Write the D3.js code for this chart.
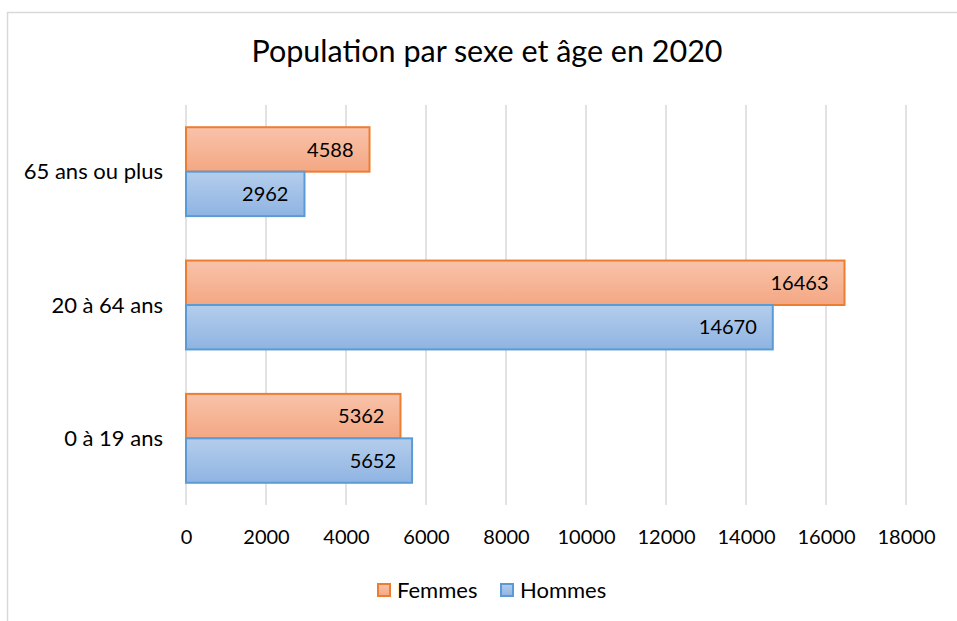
<!DOCTYPE html>
<html>
<head>
<meta charset="utf-8">
<script src="https://cdn.jsdelivr.net/npm/d3@7"></script>
<style>
  html, body { margin: 0; padding: 0; background: #fff; }
  svg { display: block; }
  text { font-family: Lato, "Open Sans", sans-serif; fill: #000; }
</style>
</head>
<body>
<svg id="chart" width="957" height="621"></svg>
<script>
// Age groups, listed top to bottom
const categories = ["65 ans ou plus", "20 à 64 ans", "0 à 19 ans"];
const series = ["Femmes", "Hommes"];
const femmes = [4588, 16463, 5362];
const hommes = [2962, 14670, 5652];
const ticks = [0, 2000, 4000, 6000, 8000, 10000, 12000, 14000, 16000, 18000];
const title = "Population par sexe et âge en 2020";

const W = 957, H = 621;
const margin = { left: 186, right: 51, top: 105, bottom: 116 };

const svg = d3.select("#chart");

// gradients for the two series
const defs = svg.append("defs");
const grads = {
  Femmes: { top: "#f8c3aa", bottom: "#f4a783", stroke: "#ed7d31" },
  Hommes: { top: "#b4cdec", bottom: "#8fb4e2", stroke: "#5b9bd5" }
};
Object.entries(grads).forEach(([k, g]) => {
  const lg = defs.append("linearGradient")
    .attr("id", "grad-" + k).attr("x1", 0).attr("y1", 0).attr("x2", 0).attr("y2", 1);
  lg.append("stop").attr("offset", "0%").attr("stop-color", g.top);
  lg.append("stop").attr("offset", "100%").attr("stop-color", g.bottom);
});

// chart frame
svg.append("rect")
  .attr("x", 7.5).attr("y", 12.5)
  .attr("width", W).attr("height", H)
  .attr("fill", "none").attr("stroke", "#d9d9d9").attr("stroke-width", 1.5);

svg.append("text")
  .attr("x", 487).attr("y", 62)
  .attr("text-anchor", "middle")
  .style("font-size", "30.5px")
  .text(title);

const x = d3.scaleLinear().domain([0, 18000]).range([margin.left, W - margin.right]);
const y = d3.scaleBand().domain(categories).range([margin.top, H - margin.bottom]).paddingInner(0).paddingOuter(0);
// two bars per group, gap equal to one bar width
const inner = d3.scaleBand().domain(series).range([y.bandwidth() / 6, y.bandwidth() * 5 / 6]);

// vertical gridlines
svg.append("g")
  .selectAll("line").data(ticks).join("line")
  .attr("x1", d => x(d)).attr("x2", d => x(d))
  .attr("y1", margin.top).attr("y2", H - margin.bottom)
  .attr("stroke", "#d9d9d9").attr("stroke-width", 1.5);

// value axis
const xAxis = d3.axisBottom(x).tickValues(ticks).tickSize(0).tickPadding(0).tickFormat(d3.format("d"));
const gx = svg.append("g").attr("transform", `translate(0,${H - margin.bottom + 39})`).call(xAxis);
gx.select(".domain").remove();
gx.selectAll("text").style("font-size", "20px").attr("dy", 0).attr("y", 0).attr("fill", "#000");

// category axis
const yAxis = d3.axisLeft(y).tickSize(0).tickPadding(23);
const gy = svg.append("g").attr("transform", `translate(${margin.left},0)`).call(yAxis);
gy.select(".domain").remove();
gy.selectAll("text").style("font-size", "22px").attr("dy", "0.35em").attr("fill", "#000");

const rows = categories.map((c, i) => ({ cat: c, Femmes: femmes[i], Hommes: hommes[i] }));

const groups = svg.append("g").selectAll("g").data(rows).join("g")
  .attr("transform", d => `translate(0,${y(d.cat)})`);

const bars = groups.selectAll("g").data(d => series.map(s => ({ s, v: d[s] }))).join("g");

bars.append("rect")
  .attr("x", x(0))
  .attr("y", d => inner(d.s))
  .attr("width", d => x(d.v) - x(0))
  .attr("height", inner.bandwidth())
  .attr("fill", d => `url(#grad-${d.s})`)
  .attr("stroke", d => grads[d.s].stroke)
  .attr("stroke-width", 2);

bars.append("text")
  .attr("x", d => x(d.v) - 16)
  .attr("y", d => inner(d.s) + inner.bandwidth() / 2)
  .attr("dy", "0.36em")
  .attr("text-anchor", "end")
  .style("font-size", "20px")
  .text(d => d.v);

// legend
const legend = svg.append("g").attr("transform", "translate(377,590)");
const items = [{ s: "Femmes", x: 0 }, { s: "Hommes", x: 123 }];
const li = legend.selectAll("g").data(items).join("g").attr("transform", d => `translate(${d.x},0)`);
li.append("rect")
  .attr("x", 1).attr("y", -6).attr("width", 12).attr("height", 12)
  .attr("fill", d => `url(#grad-${d.s})`)
  .attr("stroke", d => grads[d.s].stroke).attr("stroke-width", 2);
li.append("text")
  .attr("x", 20).attr("y", 0).attr("dy", "0.36em")
  .style("font-size", "22px")
  .text(d => d.s);
</script>
</body>
</html>
